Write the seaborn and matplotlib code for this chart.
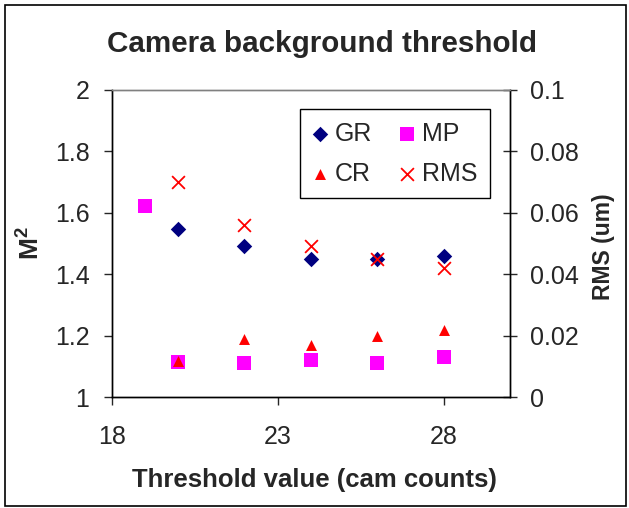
import seaborn as sns
import matplotlib.pyplot as plt
import matplotlib as mpl
from matplotlib.patches import Rectangle

# data
threshold = [20, 22, 24, 26, 28]
threshold_mp = [19, 20, 22, 24, 26, 28]
gr = [1.546, 1.49, 1.45, 1.45, 1.458]
mp = [1.62, 1.115, 1.11, 1.12, 1.109, 1.13]
cr = [1.117, 1.19, 1.17, 1.198, 1.217]
rms = [0.070, 0.056, 0.049, 0.045, 0.042]

x_ticks = [18, 23, 28]
m2_ticks = [1, 1.2, 1.4, 1.6, 1.8, 2]
rms_ticks = [0, 0.02, 0.04, 0.06, 0.08, 0.1]

sns.set_theme(style="white", rc={"axes.edgecolor": "black", "axes.linewidth": 1.0})
plt.rcParams['font.family'] = ['Liberation Sans', 'DejaVu Sans']
# only the M^2 label uses mathtext; make it bold Liberation Sans
plt.rcParams['mathtext.fontset'] = 'custom'
plt.rcParams['mathtext.rm'] = 'Liberation Sans:bold'
plt.rcParams['mathtext.it'] = 'Liberation Sans:bold'

fig = plt.figure(figsize=(6.29, 5.08), dpi=100)
ax = fig.add_axes([0.1776, 0.2185, 0.6332, 0.6053])
ax2 = ax.twinx()

# MP before CR so the triangle sits on top of the square at x=20
sns.scatterplot(x=threshold, y=gr, ax=ax, marker="D", color="#000080", s=62, linewidth=0, label="GR")
sns.scatterplot(x=threshold_mp, y=mp, ax=ax, marker="s", color="#FF00FF", s=100, linewidth=0, label="MP")
sns.scatterplot(x=threshold, y=cr, ax=ax, marker="^", color="#FF0000", s=62, linewidth=0, label="CR")
sns.scatterplot(x=threshold, y=rms, ax=ax2, marker="x", color="#FF0000", s=85, linewidth=1.3, label="RMS")

ax.set_xlim(18, 30)
ax.set_ylim(1, 2)
ax2.set_ylim(0, 0.1)
ax.set_xticks(x_ticks)
ax.set_yticks(m2_ticks)
ax2.set_yticks(rms_ticks)
fmt = mpl.ticker.FormatStrFormatter("%g")
ax.yaxis.set_major_formatter(fmt)
ax2.yaxis.set_major_formatter(fmt)

ax.tick_params(axis="y", direction="out", length=6, width=1, pad=10, labelsize=18, left=True)
ax.tick_params(axis="x", direction="out", length=6, width=1, pad=14, labelsize=18, bottom=True)
ax2.tick_params(axis="y", direction="inout", length=10, width=1, pad=9.5, labelsize=18, right=True)

for a in (ax, ax2):
    a.spines["top"].set_color("#808080")

ax.set_xlabel("Threshold value (cam counts)", fontsize=18.5, fontweight="bold")
ax.xaxis.set_label_coords(0.508, -0.231)
ax.set_ylabel("M$^2$", fontsize=19, fontweight="bold")
ax.yaxis.set_label_coords(-0.168, 0.5)
ax2.set_ylabel("RMS (um)", fontsize=16.5, fontweight="bold", rotation=90)
ax2.yaxis.set_label_coords(1.205, 0.49)

fig.text(322 / 629, 1 - 44 / 508, "Camera background threshold", fontsize=21.3,
         fontweight="bold", ha="center", va="center")

# legend: GR, MP on first row, CR, RMS on second
h1, l1 = ax.get_legend_handles_labels()
h2, l2 = ax2.get_legend_handles_labels()
handles = [h1[0], h1[2], h1[1], h2[0]]
labels = [l1[0], l1[2], l1[1], l2[0]]
ax2.legend(handles, labels, ncol=2, loc="upper left",
           bbox_to_anchor=(300 / 629, 1 - 109 / 508), bbox_transform=fig.transFigure,
           fontsize=18, frameon=True, fancybox=False, framealpha=1, edgecolor="black",
           borderaxespad=0, borderpad=0.5, handlelength=0.6, handletextpad=0.3,
           columnspacing=1.1, labelspacing=0.65)
ax.get_legend().remove()

fig.patches.append(Rectangle((5 / 629, 2 / 508), 621 / 629, 501 / 508, transform=fig.transFigure,
                             fill=False, edgecolor="black", linewidth=1.2))

plt.savefig("out.png", dpi=100)
plt.close()
